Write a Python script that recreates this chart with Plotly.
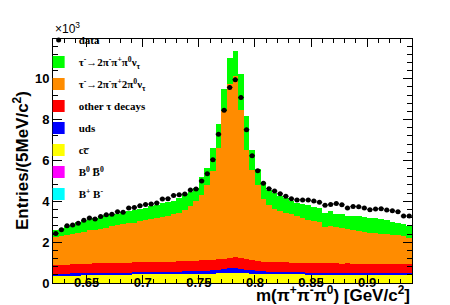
import numpy as np
import plotly.graph_objects as go

# 64 bins of 5 MeV between 0.62 and 0.94 GeV/c^2
bin_lo = 0.62
bin_width = 0.005
n_bins = 64

# values in units of 10^3 entries
data = [2.43, 2.61, 2.80, 2.84, 2.93, 3.07, 3.18, 3.13, 3.26, 3.34,
        3.37, 3.49, 3.47, 3.67, 3.70, 3.78, 3.85, 3.87, 3.92, 4.12,
        4.13, 4.29, 4.32, 4.36, 4.55, 4.60, 5.00, 5.35, 6.04, 7.29,
        8.46, 9.58, 9.96, 9.08, 7.51, 6.23, 5.50, 4.88, 4.62, 4.50,
        4.37, 4.25, 4.13, 4.07, 4.07, 4.06, 4.01, 3.95, 3.81, 3.85,
        3.89, 3.83, 3.67, 3.75, 3.73, 3.67, 3.59, 3.62, 3.64, 3.57,
        3.54, 3.49, 3.28, 3.28]

bpbm = [0.005] * 64  # B+ B-
b0b0 = [0.005] * 64  # B0 B0bar

ccbar = [0.37, 0.37, 0.38, 0.38, 0.38, 0.39, 0.39, 0.39, 0.39, 0.40,
         0.40, 0.40, 0.40, 0.40, 0.41, 0.41, 0.41, 0.41, 0.41, 0.42,
         0.42, 0.42, 0.42, 0.43, 0.43, 0.43, 0.44, 0.44, 0.45, 0.46,
         0.47, 0.48, 0.48, 0.47, 0.46, 0.45, 0.44, 0.43, 0.43, 0.42,
         0.42, 0.42, 0.41, 0.41, 0.41, 0.41, 0.41, 0.40, 0.40, 0.40,
         0.40, 0.40, 0.40, 0.40, 0.40, 0.40, 0.40, 0.40, 0.40, 0.40,
         0.40, 0.40, 0.40, 0.40]

uds = [0.07, 0.07, 0.07, 0.08, 0.08, 0.08, 0.08, 0.08, 0.09, 0.09,
       0.09, 0.09, 0.09, 0.10, 0.10, 0.10, 0.10, 0.11, 0.11, 0.11,
       0.12, 0.12, 0.12, 0.13, 0.13, 0.14, 0.14, 0.15, 0.16, 0.18,
       0.20, 0.23, 0.24, 0.22, 0.19, 0.16, 0.14, 0.13, 0.12, 0.12,
       0.11, 0.11, 0.10, 0.10, 0.10, 0.09, 0.09, 0.09, 0.09, 0.08,
       0.08, 0.08, 0.08, 0.08, 0.07, 0.07, 0.07, 0.07, 0.07, 0.07,
       0.07, 0.06, 0.06, 0.06]

other_tau = [0.42, 0.43, 0.43, 0.44, 0.44, 0.47, 0.47, 0.48, 0.47, 0.48,
             0.48, 0.49, 0.49, 0.48, 0.49, 0.49, 0.50, 0.49, 0.50, 0.50,
             0.50, 0.50, 0.51, 0.50, 0.51, 0.51, 0.52, 0.52, 0.52, 0.52,
             0.52, 0.51, 0.52, 0.52, 0.51, 0.50, 0.49, 0.48, 0.48, 0.48,
             0.48, 0.48, 0.48, 0.48, 0.47, 0.48, 0.47, 0.47, 0.46, 0.47,
             0.47, 0.46, 0.47, 0.46, 0.46, 0.46, 0.46, 0.45, 0.46, 0.45,
             0.45, 0.46, 0.45, 0.45]

tau_2pi2pi0 = [1.38, 1.40, 1.47, 1.49, 1.55, 1.55, 1.63, 1.66, 1.70, 1.72,
               1.80, 1.83, 1.89, 1.93, 1.95, 2.01, 2.06, 2.12, 2.15, 2.20,
               2.25, 2.33, 2.39, 2.52, 2.67, 2.91, 3.21, 3.66, 4.36, 5.43,
               7.23, 8.50, 8.89, 7.25, 5.35, 4.42, 3.73, 3.05, 2.76, 2.59,
               2.50, 2.42, 2.36, 2.26, 2.19, 2.09, 2.06, 2.03, 1.80, 1.84,
               1.76, 1.73, 1.67, 1.65, 1.61, 1.58, 1.52, 1.51, 1.46, 1.46,
               1.43, 1.41, 1.36, 1.30]

tau_2pipi0 = [0.37, 0.42, 0.44, 0.46, 0.52, 0.54, 0.56, 0.58, 0.61, 0.62,
              0.58, 0.58, 0.59, 0.60, 0.61, 0.60, 0.59, 0.62, 0.64, 0.66,
              0.66, 0.66, 0.69, 0.79, 0.71, 0.66, 0.86, 0.86, 1.10, 1.19,
              1.07, 1.27, 1.24, 1.75, 1.66, 0.96, 0.78, 0.87, 0.75, 0.80,
              0.76, 0.71, 0.66, 0.66, 0.68, 0.72, 0.70, 0.66, 0.69, 0.72,
              0.68, 0.69, 0.67, 0.68, 0.72, 0.73, 0.72, 0.73, 0.72, 0.71,
              0.62, 0.59, 0.60, 0.58]

x_ticks = [0.65, 0.7, 0.75, 0.8, 0.85, 0.9]
x_ticklabels = ["0.65", "0.7", "0.75", "0.8", "0.85", "0.9"]
y_ticks = [0, 2, 4, 6, 8, 10]
y_ticklabels = ["0", "2", "4", "6", "8", "10"]

centers = bin_lo + bin_width * (np.arange(n_bins) + 0.5)
data_arr = np.array(data)
data_err = np.sqrt(data_arr * 1000.0) / 1000.0

fig = go.Figure()

stack = [
    ("B<sup>+</sup> B<sup>-</sup>", bpbm, "#00ffff", 8),
    ("B<sup>0</sup> B\u0305<sup>0</sup>", b0b0, "#ff00ff", 7),
    ("cc\u0305", ccbar, "#ffff00", 6),
    ("uds", uds, "#0000ff", 5),
    ("other τ decays", other_tau, "#ff0000", 4),
    ("τ<sup>-</sup>→2π<sup>-</sup>π<sup>+</sup>2π<sup>0</sup>ν<sub>τ</sub>", tau_2pi2pi0, "#ff8c00", 3),
    ("τ<sup>-</sup>→2π<sup>-</sup>π<sup>+</sup>π<sup>0</sup>ν<sub>τ</sub>", tau_2pipi0, "#00ff00", 2),
]
for name, vals, col, rank in stack:
    fig.add_trace(go.Bar(
        x=centers, y=vals, width=bin_width, name=name,
        marker=dict(color=col, line=dict(width=0)),
        legendrank=rank, legendgroup=name,
    ))

fig.add_trace(go.Scatter(
    x=centers, y=data, mode="markers", name="data",
    marker=dict(color="black", size=5),
    error_y=dict(type="data", array=data_err, color="black", thickness=1, width=0),
    error_x=dict(type="constant", value=bin_width / 2, color="black", thickness=1, width=0),
    legendrank=1, legendgroup="data",
))

axis_font = dict(family="Liberation Sans, Arial, sans-serif", size=13, color="black", weight="bold")

fig.update_layout(
    width=450, height=305,
    margin=dict(l=45, r=46, t=31, b=30, autoexpand=False),
    paper_bgcolor="white", plot_bgcolor="white",
    barmode="stack", bargap=0,
    showlegend=True,
    legend=dict(
        x=-0.04, y=1.055, xanchor="left", yanchor="top",
        bgcolor="rgba(0,0,0,0)", borderwidth=0, maxheight=300,
        font=dict(family="Liberation Serif, Times New Roman, serif", size=11, color="black", weight="bold"),
        traceorder="grouped", tracegroupgap=3, itemwidth=30,
    ),
    xaxis=dict(
        range=[0.62, 0.94], showgrid=False, zeroline=False, automargin=False,
        showline=True, linecolor="black", linewidth=1, mirror="ticks",
        ticks="inside", ticklen=8, tickcolor="black",
        tickvals=x_ticks, ticktext=x_ticklabels, tickfont=axis_font,
        ticklabelstandoff=-13,
        minor=dict(ticks="inside", ticklen=4, dtick=0.01, tick0=0.6, tickcolor="black", showgrid=False),
    ),
    yaxis=dict(
        range=[0, 11.95], showgrid=False, zeroline=False, automargin=False,
        showline=True, linecolor="black", linewidth=1, mirror="ticks",
        ticks="inside", ticklen=9, tickcolor="black",
        tickvals=y_ticks, ticktext=y_ticklabels, tickfont=axis_font,
        minor=dict(ticks="inside", ticklen=5, dtick=0.4, tick0=0, tickcolor="black", showgrid=False),
    ),
    annotations=[
        dict(text="×10<sup>3</sup>", xref="paper", yref="paper", x=0, y=1,
             xanchor="left", yanchor="bottom", yshift=1, showarrow=False,
             font=dict(family="Liberation Sans, Arial, sans-serif", size=12, color="black")),
        dict(text="m(π<sup>+</sup>π<sup>-</sup>π<sup>0</sup>) [GeV/c<sup>2</sup>]",
             xref="paper", yref="paper", x=1, y=0, xanchor="right", yanchor="middle",
             yshift=-11, showarrow=False,
             font=dict(family="Liberation Sans, Arial, sans-serif", size=17, color="black", weight="bold")),
        dict(text="Entries/(5MeV/c<sup>2</sup>)", xref="paper", yref="paper",
             x=0, y=0.5, xanchor="center", yanchor="middle", xshift=-32, textangle=-90,
             showarrow=False,
             font=dict(family="Liberation Sans, Arial, sans-serif", size=17, color="black", weight="bold")),
    ],
)

fig.write_html("out.html")
